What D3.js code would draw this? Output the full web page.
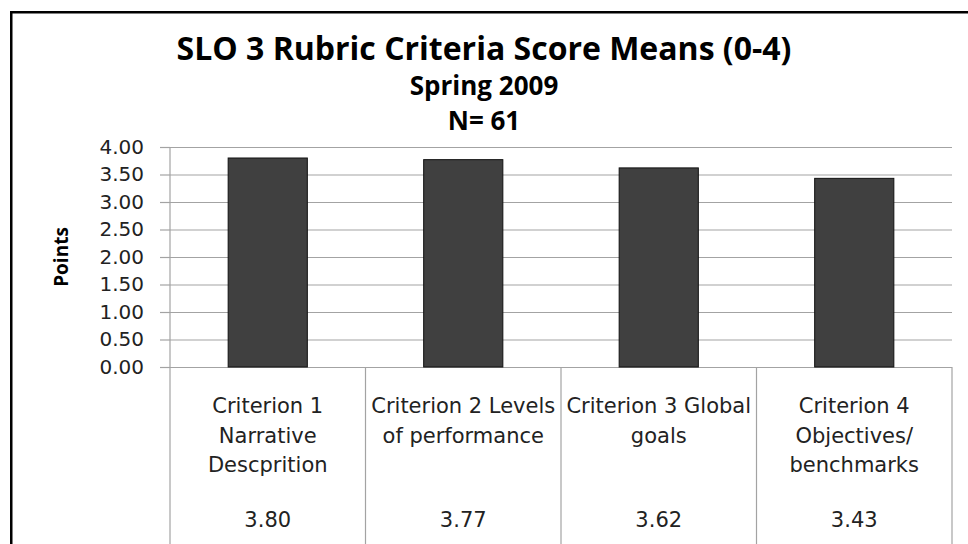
<!DOCTYPE html>
<html><head><meta charset="utf-8">
<script src="https://cdn.jsdelivr.net/npm/d3@7"></script>
<style>body{margin:0;background:#fff} svg{display:block}</style>
</head><body>
<svg id="c" width="968" height="544"></svg>
<script>
// ---- data ----
const categories = [
  ["Criterion 1", "Narrative", "Descprition"],
  ["Criterion 2 Levels", "of performance"],
  ["Criterion 3 Global", "goals"],
  ["Criterion 4", "Objectives/", "benchmarks"]
];
const values = [3.80, 3.77, 3.62, 3.43];
const valueLabels = ["3.80", "3.77", "3.62", "3.43"];
const yTicks = [0, 0.5, 1, 1.5, 2, 2.5, 3, 3.5, 4];
const titleLines = ["SLO 3 Rubric Criteria Score Means (0-4)", "Spring 2009", "N= 61"];
const yTitle = "Points";

// ---- layout ----
const svg = d3.select("#c");
const L = 170, R = 952, T = 147, B = 367, BOTTOM = 544;
const bodyFont = "'DejaVu Sans', sans-serif";
const boldFont = "'Open Sans', sans-serif";
const gridColor = "#a3a3a3";

// outer frame
svg.append("rect").attr("x", 11.25).attr("y", 12.25).attr("width", 1000).attr("height", 1000)
  .attr("fill", "none").attr("stroke", "#000").attr("stroke-width", 2.5);

// titles
const titleSizes = [32, 26, 26];
const titleBase = [60, 95, 130];
titleLines.forEach((t, i) => {
  svg.append("text").attr("x", 484).attr("y", titleBase[i]).attr("text-anchor", "middle")
    .attr("font-family", boldFont).attr("font-weight", "bold").attr("font-size", titleSizes[i])
    .attr("fill", "#000").text(t);
});

const x = d3.scaleBand().domain(d3.range(categories.length)).range([L, R]).padding(0);
const y = d3.scaleLinear().domain([0, 4]).range([B, T]);

// grid lines
const grid = svg.append("g").attr("transform", `translate(${L},0)`)
  .call(d3.axisLeft(y).tickValues(yTicks).tickSize(-(R - L)).tickFormat(""));
grid.select(".domain").remove();
grid.selectAll("line").attr("stroke", gridColor).attr("stroke-width", 1.2);

// y axis
const yAxis = svg.append("g").attr("transform", `translate(${L},0)`)
  .call(d3.axisLeft(y).tickValues(yTicks).tickSize(10).tickPadding(16).tickFormat(d3.format(".2f")));
yAxis.select(".domain").remove();
yAxis.selectAll("line").attr("stroke", gridColor).attr("stroke-width", 1.2);
yAxis.selectAll("text").attr("font-family", bodyFont).attr("font-size", 20).attr("fill", "#222");

// y axis line and table lines
svg.append("line").attr("x1", L).attr("x2", L).attr("y1", T).attr("y2", BOTTOM)
  .attr("stroke", gridColor).attr("stroke-width", 1.2);
svg.selectAll(".vsep").data(d3.range(1, categories.length + 1)).enter().append("line")
  .attr("x1", i => i < categories.length ? x(i) : R)
  .attr("x2", i => i < categories.length ? x(i) : R)
  .attr("y1", B).attr("y2", BOTTOM)
  .attr("stroke", gridColor).attr("stroke-width", 1.2);

// bars
const barFrac = 0.405;
svg.selectAll(".bar").data(values).enter().append("rect")
  .attr("x", (d, i) => x(i) + x.bandwidth() * (1 - barFrac) / 2)
  .attr("width", x.bandwidth() * barFrac)
  .attr("y", d => y(d))
  .attr("height", d => y(0) - y(d))
  .attr("fill", "#404040").attr("stroke", "#111").attr("stroke-width", 1);

// y title
svg.append("text").attr("transform", `translate(68,${(T + B) / 2}) rotate(-90)`)
  .attr("text-anchor", "middle").attr("font-family", boldFont).attr("font-weight", "bold")
  .attr("font-size", 19).attr("fill", "#000").text(yTitle);

// table text
const lineBase = 413, lineStep = 29.5, valueBase = 527;
categories.forEach((lines, i) => {
  const cx = x(i) + x.bandwidth() / 2;
  lines.forEach((ln, j) => {
    svg.append("text").attr("x", cx).attr("y", lineBase + j * lineStep).attr("text-anchor", "middle")
      .attr("font-family", bodyFont).attr("font-size", 21).attr("fill", "#222").text(ln);
  });
  svg.append("text").attr("x", cx).attr("y", valueBase).attr("text-anchor", "middle")
    .attr("font-family", bodyFont).attr("font-size", 21).attr("fill", "#222").text(valueLabels[i]);
});
</script>
</body></html>
